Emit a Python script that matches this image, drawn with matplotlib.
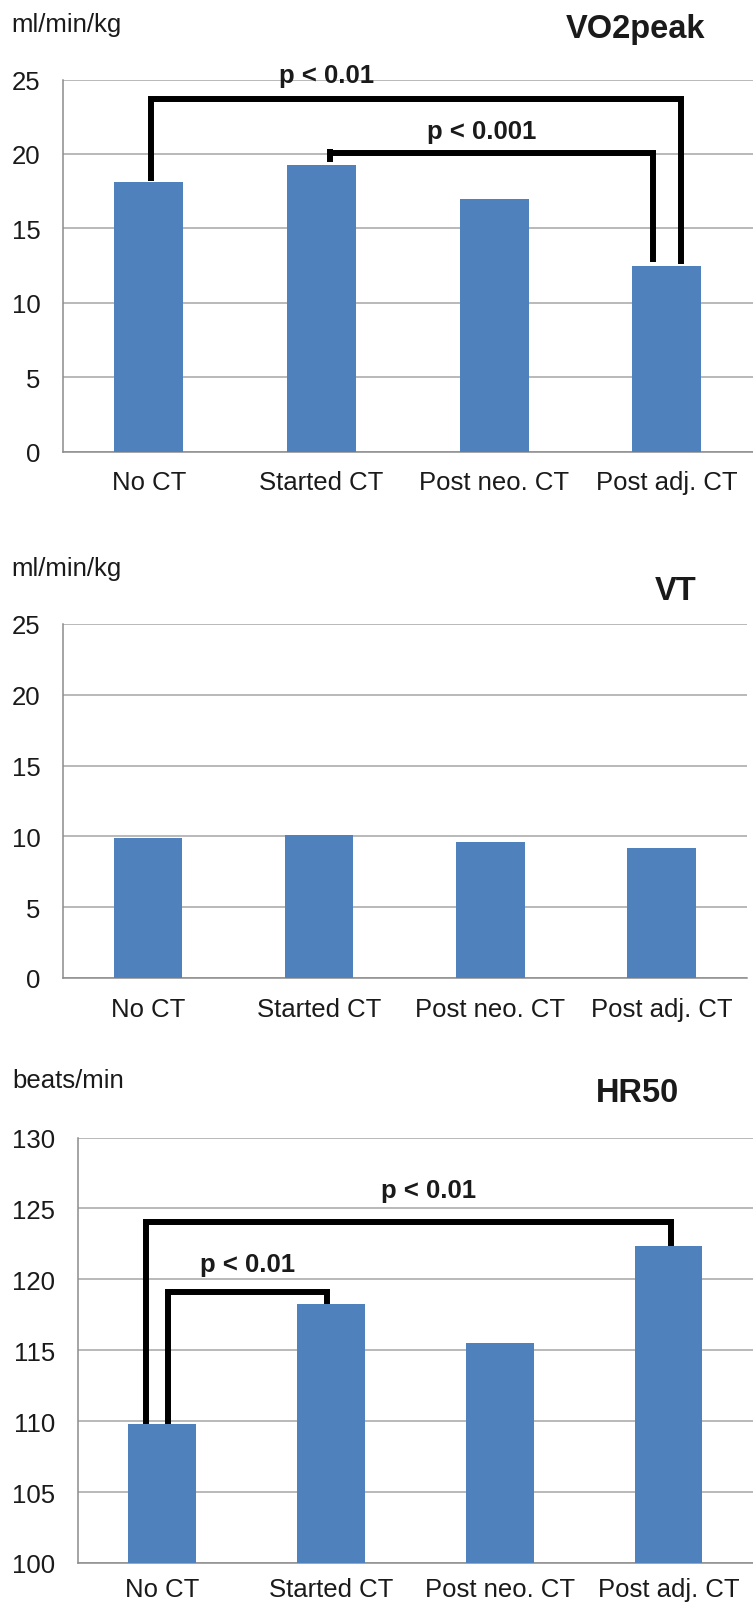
import matplotlib
matplotlib.use("Agg")
import matplotlib.pyplot as plt

plt.rcParams['font.family'] = ['Liberation Sans', 'DejaVu Sans']

# data
categories = ["No CT", "Started CT", "Post neo. CT", "Post adj. CT"]
vo2peak = [18.1, 19.25, 16.95, 12.45]
vt = [9.88, 10.12, 9.62, 9.15]
hr50 = [109.8, 118.27, 115.53, 122.35]

vo2_ticks = [0, 5, 10, 15, 20, 25]
vt_ticks = [0, 5, 10, 15, 20, 25]
hr_ticks = [100, 105, 110, 115, 120, 125, 130]

# brackets: x1, x2, y, leg end left, leg end right, label, label x, label y
vo2_brackets = [
    (0.015, 3.083, 23.68, 18.2, 12.6, "p < 0.01", 1.03, 25.3),
    (1.052, 2.921, 20.08, 20.08, 12.72, "p < 0.001", 1.93, 21.55),
]
hr_brackets = [
    (-0.093, 3.017, 124.06, 109.8, 122.35, "p < 0.01", 1.58, 126.3),
    (0.035, 0.974, 119.08, 109.8, 118.27, "p < 0.01", 0.504, 121.05),
]

W, H = 753, 1606
BLUE = "#4f81bd"
GRID = "#a6a6a6"
SPINE = "#8c8c8c"
TXT = "#1a1a1a"

fig = plt.figure(figsize=(W / 100, H / 100), dpi=100)


def make_axes(left, top, bottom, right=W):
    return fig.add_axes([left / W, 1 - bottom / H, (right - left) / W, (bottom - top) / H])


def style(ax, vals, ticks, xpad):
    x = range(len(categories))
    ax.bar(x, vals, width=0.4, color=BLUE, zorder=3)
    ax.set_xlim(-0.5, len(categories) - 0.5)
    ax.set_ylim(ticks[0], ticks[-1])
    ax.set_yticks(ticks)
    ax.set_xticks(list(x))
    ax.set_xticklabels(categories)
    ax.yaxis.grid(True, color=GRID, linewidth=1.1, zorder=0)
    ax.set_axisbelow(True)
    for s in ["top", "right"]:
        ax.spines[s].set_visible(False)
    for s in ["left", "bottom"]:
        ax.spines[s].set_color(SPINE)
        ax.spines[s].set_linewidth(1.1)
    ax.tick_params(axis="y", length=0, pad=16, labelsize=18.5, labelcolor=TXT)
    ax.tick_params(axis="x", length=0, pad=xpad, labelsize=18.5, labelcolor=TXT)


def brackets(ax, items):
    for x1, x2, y, e1, e2, lab, tx, ty in items:
        ax.plot([x1, x1, x2, x2], [e1, y, y, e2], color="black", lw=4.3,
                solid_joinstyle="miter", solid_capstyle="butt", zorder=5, clip_on=False)
        if e1 == y:
            ax.plot([x1, x1], [y + 0.28, y - 0.6], color="black", lw=4.3,
                    solid_capstyle="butt", zorder=5, clip_on=False)
        ax.text(tx, ty, lab, ha="center", va="center", fontsize=18.5,
                fontweight="bold", color=TXT, zorder=6)


ax1 = make_axes(62.5, 80.5, 452.7)
style(ax1, vo2peak, vo2_ticks, 13)
brackets(ax1, vo2_brackets)

ax2 = make_axes(62.5, 625, 979, right=747)
style(ax2, vt, vt_ticks, 13.5)

ax3 = make_axes(77.7, 1138.5, 1564)
style(ax3, hr50, hr_ticks, 10.3)
brackets(ax3, hr_brackets)

# unit labels and panel titles
for txt, x, y in [("ml/min/kg", 11.5, 31.7), ("ml/min/kg", 11.5, 576), ("beats/min", 12.5, 1088)]:
    fig.text(x / W, 1 - y / H, txt, ha="left", va="baseline", fontsize=18.5, color=TXT)
for txt, x, y in [("VO2peak", 636, 38.3), ("VT", 676, 600), ("HR50", 638, 1101.7)]:
    fig.text(x / W, 1 - y / H, txt, ha="center", va="baseline", fontsize=23.5,
             fontweight="bold", color=TXT)

fig.savefig("out.png", dpi=100, facecolor="white")
